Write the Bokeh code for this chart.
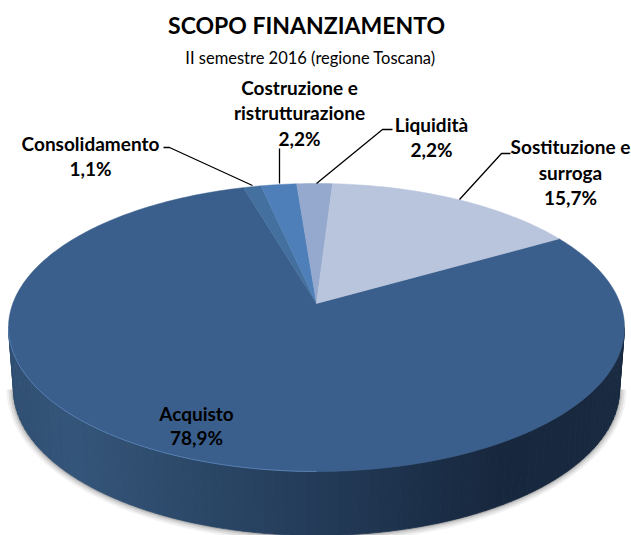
import math
from bokeh.plotting import figure
from bokeh.models import Range1d
from bokeh.core.properties import value
from bokeh.embed import file_html
from bokeh.resources import INLINE

categories = ["Acquisto", "Consolidamento", "Costruzione e ristrutturazione", "Liquidità", "Sostituzione e surroga"]
values = [78.9, 1.1, 2.2, 2.2, 15.7]
value_labels = ["78,9%", "1,1%", "2,2%", "2,2%", "15,7%"]
colors = ["#3a5f8c", "#44709f", "#4f7fb8", "#95a8cd", "#b9c5dc"]
title = "SCOPO FINANZIAMENTO"
subtitle = "II semestre 2016 (regione Toscana)"

FONT = value("Lato")
CX, CY, A, B, K = 316, 327, 308, 144, -0.167
LOW_CY, LOW_A, LOW_B = 389, 303, 146
START = 60.0


def project(deg, r=1.0):
    t = math.radians(deg)
    x, y = r * math.sin(t), -r * math.cos(t)
    d = 1 + K * y
    return CX + A * x * math.sqrt(1 - K * K) / d, CY + B * (y + K) / d


p = figure(width=631, height=535, output_backend="svg", toolbar_location=None,
           x_range=Range1d(0, 631), y_range=Range1d(535, 0), min_border=0)
p.axis.visible = False
p.grid.visible = False
p.outline_line_color = None
p.background_fill_color = "white"
p.border_fill_color = "white"

# soft shadow under the wall
for grow, alpha in [(7, 0.05), (5, 0.07), (3, 0.09), (1.5, 0.12)]:
    sx, sy = [], []
    for i in range(181):
        t = math.radians(i)
        sx.append(CX + (LOW_A + grow) * math.cos(t))
        sy.append(LOW_CY + (LOW_B + grow) * math.sin(t))
    p.patch(sx, sy, fill_color="#000000", fill_alpha=alpha, line_color=None)

# side wall: vertical strips with a left-to-right shade
stops = [(0.0, (47, 78, 113)), (0.10, (52, 85, 122)), (0.30, (44, 72, 104)),
         (0.55, (33, 56, 84)), (0.80, (23, 39, 62)), (1.0, (24, 41, 64))]


def shade(f):
    for (f0, c0), (f1, c1) in zip(stops, stops[1:]):
        if f <= f1:
            w = (f - f0) / (f1 - f0)
            return "#%02x%02x%02x" % tuple(round(a + (b - a) * w) for a, b in zip(c0, c1))
    return "#18293f"


N = 90
wx, wy, wc = [], [], []
for i in range(N):
    t0, t1 = math.radians(180 - i * 2), math.radians(180 - (i + 1) * 2)
    xs = [CX + A * math.cos(t0), CX + A * math.cos(t1), CX + LOW_A * math.cos(t1), CX + LOW_A * math.cos(t0)]
    ys = [CY + B * math.sin(t0), CY + B * math.sin(t1), LOW_CY + LOW_B * math.sin(t1), LOW_CY + LOW_B * math.sin(t0)]
    wx.append(xs)
    wy.append(ys)
    c = shade((xs[0] + xs[1] - 2 * (CX - A)) / (4 * A))
    wc.append(c)
p.patches(wx, wy, fill_color=wc, line_color=wc, line_width=0.8)

# top face, from the values
total = sum(values)
ang = START
apex = project(0, 0)
fx, fy = [], []
for v in values:
    span = 360 * v / total
    n = max(3, int(span))
    pts = [project(ang + span * j / n) for j in range(n + 1)]
    fx.append([apex[0]] + [q[0] for q in pts])
    fy.append([apex[1]] + [q[1] for q in pts])
    ang += span
p.patches(fx, fy, fill_color=colors, line_color=colors, line_width=0.5)

# light rim along the lower left of the top face
rim = [(CX + A * math.cos(math.radians(d)), CY + B * math.sin(math.radians(d))) for d in range(90, 181, 2)]
p.line([q[0] for q in rim], [q[1] for q in rim], line_color="#5c88bb", line_width=1, line_alpha=0.8)

# leader lines
leader_x = [[163, 169, 252], [279, 279], [392, 382, 316], [510, 501, 459]]
leader_y = [[147, 147, 185], [148, 183], [129, 129, 183], [153, 153, 199]]
p.multi_line(leader_x, leader_y, line_color="#000000", line_width=1.3)

# texts
p.text([306], [24], text=[title], text_font=FONT, text_font_style="bold", text_font_size="23px",
       text_align="center", text_baseline="middle", text_color="#000000")
p.text([310], [57], text=[subtitle], text_font=FONT, text_font_size="16.5px",
       text_align="center", text_baseline="middle", text_color="#000000")

lab_x = [196, 196, 90, 90, 299, 299, 299, 431, 431, 570, 570, 570]
lab_y = [413, 437, 143, 168, 87, 112, 138, 124, 149, 146, 172, 197]
lab_t = ["Acquisto", value_labels[0], "Consolidamento", value_labels[1],
         "Costruzione e", "ristrutturazione", value_labels[2],
         "Liquidità", value_labels[3], "Sostituzione e", "surroga", value_labels[4]]
p.text(lab_x, lab_y, text=lab_t, text_font=FONT, text_font_style="bold", text_font_size="19px",
       text_align="center", text_baseline="middle", text_color="#000000")

open("out.html", "w").write(file_html(p, INLINE))
